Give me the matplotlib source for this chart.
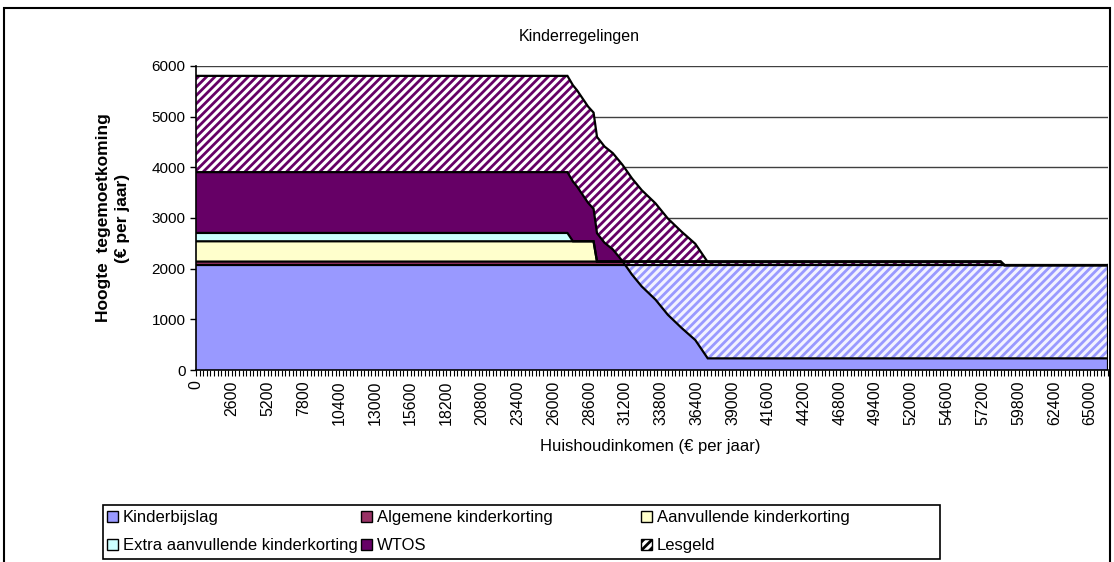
import numpy as np
import matplotlib.pyplot as plt
from matplotlib.patches import Rectangle, Patch
from matplotlib.ticker import MultipleLocator

plt.rcParams['font.family'] = ['Liberation Sans', 'DejaVu Sans']
plt.rcParams['hatch.linewidth'] = 2.0

# income points (€ per jaar) and the stacked series values
income = [0, 27000, 27400, 27700, 28500, 28900, 29150, 29700, 30300, 31000,
          31700, 32400, 33400, 34300, 35300, 36300, 37200, 58500, 58760, 66300]
kinderbijslag = [2070] * 20
algemene = [70] * 18 + [0, 0]
aanvullende = [400] * 6 + [0] * 14
extra = [165, 165] + [0] * 18
wtos = [1200, 1200, 1180, 1080, 760, 640, 560, 370, 240, 10,
        -260, -490, -750, -1050, -1310, -1550, -1910, -1910, -1840, -1840]
lesgeld = [1900] * 18 + [1840, 1840]

labels = ['Kinderbijslag', 'Algemene kinderkorting', 'Aanvullende kinderkorting',
          'Extra aanvullende kinderkorting', 'WTOS', 'Lesgeld']
colors = ['#9999FF', '#993366', '#FFFFCC', '#CCFFFF', '#660066', '#FFFFFF']

x = np.array(income)
series = [np.array(s) for s in [kinderbijslag, algemene, aanvullende, extra, wtos, lesgeld]]
tops = np.cumsum(series, axis=0)
bottoms = np.vstack([np.zeros_like(x), tops[:-1]])

fig = plt.figure(figsize=(11.14, 5.62), dpi=100)
ax = fig.add_axes([0.176, 0.3416, 0.8186, 0.541])

for i in range(6):
    if labels[i] == 'Lesgeld':
        ax.fill_between(x, bottoms[i], tops[i], facecolor='white', edgecolor='#660066',
                        hatch='////', linewidth=0)
    else:
        ax.fill_between(x, bottoms[i], tops[i], facecolor=colors[i], linewidth=0)

# where the WTOS line dips under the kinderbijslag the pattern shows in blue
under = tops[4] < tops[0]
ax.fill_between(x, tops[4], tops[0], where=under, interpolate=True,
                facecolor='#F2F2FF', edgecolor='#9999FF', hatch='////', linewidth=0)

for i in range(6):
    ax.plot(x, tops[i], color='black', lw=1.6, solid_joinstyle='miter')
ax.plot([x[-1], x[-1]], [0, tops[-1][-1]], color='black', lw=1.6)

ax.set_xlim(0, 66300)
ax.set_ylim(0, 6000)
ax.set_yticks(np.arange(0, 6001, 1000))
ax.set_xticks(np.arange(0, 66300, 2600))
ax.xaxis.set_minor_locator(MultipleLocator(260))
ax.set_xticklabels([str(v) for v in np.arange(0, 66300, 2600)], rotation=90, fontsize=11.5)
ax.tick_params(axis='y', labelsize=11, length=4, width=1, direction='out')
ax.tick_params(axis='x', which='both', length=4, width=0.8, direction='out')
ax.grid(axis='y', color='#404040', lw=1)
ax.set_axisbelow(True)
ax.spines['top'].set_visible(False)
ax.spines['right'].set_visible(False)
ax.spines['left'].set_linewidth(1.2)
ax.spines['bottom'].set_linewidth(1.2)

fig.text(0.52, 1 - 37 / 562, 'Kinderregelingen', ha='center', va='center', fontsize=11.5)
fig.text(650 / 1114, 1 - 447 / 562, 'Huishoudinkomen (€ per jaar)', ha='center', va='center', fontsize=12)
fig.text(113 / 1114, 1 - 218 / 562, 'Hoogte  tegemoetkoming\n(€ per jaar)', ha='center', va='center',
         rotation=90, fontsize=12.5, fontweight='bold', linespacing=1.35)

fig.patches.append(Rectangle((4 / 1114, -0.1), 1106 / 1114, 1 - 8 / 562 + 0.1,
                             transform=fig.transFigure, fill=False, edgecolor='black', lw=1.5))

handles = []
for i in range(6):
    if labels[i] == 'Lesgeld':
        handles.append(Patch(facecolor='white', edgecolor='black', hatch='////', label=labels[i]))
    else:
        handles.append(Patch(facecolor=colors[i], edgecolor='black', label=labels[i]))

# legend box, one column of two entries at each left edge
fig.patches.append(Rectangle((103 / 1114, 1 - 559 / 562), 837 / 1114, 54 / 562,
                             transform=fig.transFigure, fill=False, edgecolor='black', lw=1.2))
columns = [[0, 3], [1, 4], [2, 5]]
col_x = [107, 361, 641]
for cx, col in zip(col_x, columns):
    fig.legend([handles[k] for k in col], [labels[k] for k in col], loc='upper left',
               bbox_to_anchor=(cx / 1114, 1 - 510 / 562), fontsize=12, frameon=False,
               handlelength=0.65, handleheight=0.65, handletextpad=0.3,
               borderaxespad=0, borderpad=0, labelspacing=0.8)

fig.savefig('out.png', dpi=100)
